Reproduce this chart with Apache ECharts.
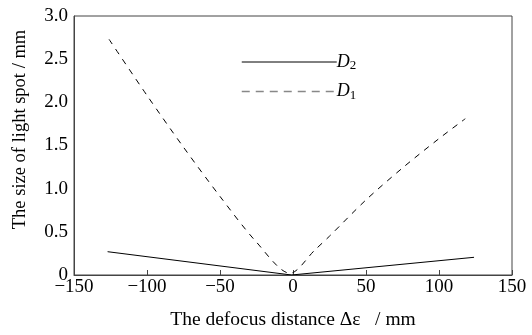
<!DOCTYPE html>
<html>
<head>
<meta charset="utf-8">
<script src="https://cdn.jsdelivr.net/npm/echarts@6/dist/echarts.min.js"></script>
<style>html,body{margin:0;padding:0;background:#fff}#chart{width:532px;height:335px}</style>
</head>
<body>
<div id="chart"></div>
<script>
// defocus distance (mm) vs. spot size (mm)
const d2X = [-127, -1, 124];
const d2Y = [0.27, 0.0, 0.205];
const d1X = [-126, -100, -75, -50, -25, -2, 15, 25, 50, 75, 100, 118];
const d1Y = [2.73, 2.08, 1.48, 0.91, 0.38, 0.02, 0.29, 0.45, 0.87, 1.24, 1.58, 1.81];
const xTicks = [-150, -100, -50, 0, 50, 100, 150];
const yTicks = [0, 0.5, 1.0, 1.5, 2.0, 2.5, 3.0];

const font = 'Liberation Serif';
const chart = echarts.init(document.getElementById('chart'));

chart.setOption({
  animation: false,
  textStyle: { fontFamily: font, color: '#000' },
  grid: { left: 74, right: 20, top: 16, bottom: 56, show: true, borderColor: '#444', borderWidth: 1 },
  legend: {
    orient: 'vertical', left: 236, top: 48, itemWidth: 95, itemHeight: 14, itemGap: 10,
    itemStyle: { color: 'transparent', borderWidth: 0 },
    textStyle: {
      fontFamily: font, fontSize: 18, color: '#000', padding: [0, 0, 0, -5],
      rich: {
        i: { fontFamily: font, fontSize: 18, fontStyle: 'italic' },
        s: { fontFamily: font, fontSize: 13, padding: [8, 0, 0, 0] }
      }
    },
    formatter: n => n === 'D2' ? '{i|D}{s|2}' : '{i|D}{s|1}',
    data: [
      { name: 'D2', lineStyle: { color: '#000', width: 1 } },
      { name: 'D1', lineStyle: { color: '#888', width: 1.5, type: [8, 6] } }
    ]
  },
  xAxis: {
    type: 'value', min: xTicks[0], max: xTicks[xTicks.length - 1], interval: 50,
    name: 'The defocus distance \u0394\u03b5   / mm', nameLocation: 'middle', nameGap: 35,
    nameTextStyle: { fontFamily: font, fontSize: 19.5, color: '#000' },
    axisLine: { lineStyle: { color: '#444' } },
    axisTick: { inside: true, length: 5, lineStyle: { color: '#444' } },
    axisLabel: { fontFamily: font, fontSize: 19, color: '#000', margin: 3,
      formatter: v => String(v).replace('-', '\u2212') },
    splitLine: { show: false }
  },
  yAxis: {
    type: 'value', min: yTicks[0], max: yTicks[yTicks.length - 1], interval: 0.5,
    name: 'The size of light spot / mm', nameLocation: 'middle', nameGap: 44,
    nameTextStyle: { fontFamily: font, fontSize: 18.5, color: '#000', padding: [0, 0, 0, 32] },
    axisLine: { onZero: false, lineStyle: { color: '#444' } },
    axisTick: { show: false },
    axisLabel: { fontFamily: font, fontSize: 19, color: '#000', margin: 6,
      formatter: v => v === 0 ? '0' : v.toFixed(1) },
    splitLine: { show: false }
  },
  series: [
    { name: 'D2', type: 'line', symbol: 'none', data: d2X.map((x, i) => [x, d2Y[i]]),
      lineStyle: { color: '#000', width: 1 } },
    { name: 'D1', type: 'line', symbol: 'none', smooth: 0.3, data: d1X.map((x, i) => [x, d1Y[i]]),
      lineStyle: { color: '#000', width: 1, type: [6, 6] } }
  ]
});
</script>
</body>
</html>
